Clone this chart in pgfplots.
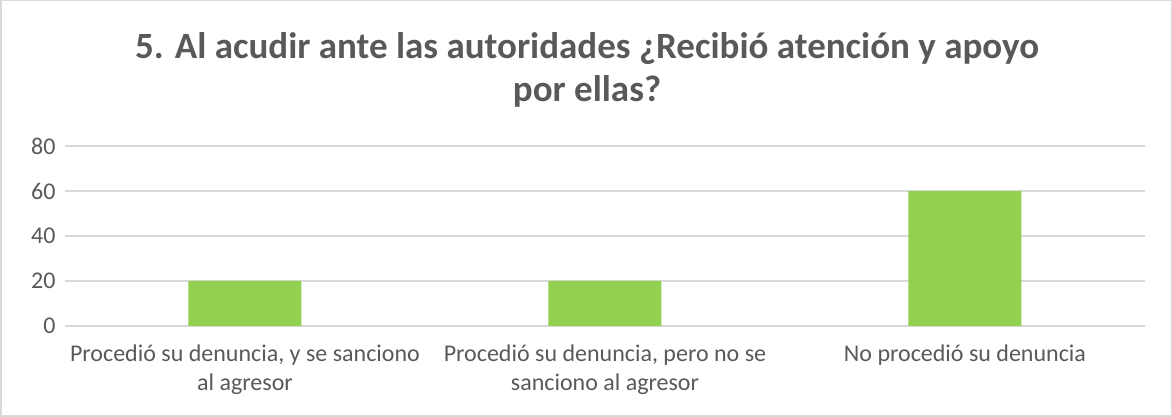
\documentclass[border=0pt]{standalone}
\usepackage{pgfplots}
\pgfplotsset{compat=1.18}
\usepackage{fontspec}
\setmainfont{Carlito}
\definecolor{txt}{HTML}{595959}
\definecolor{grd}{HTML}{D9D9D9}
\definecolor{bar}{HTML}{92D050}
\begin{document}
\begin{tikzpicture}[x=1pt,y=1pt]
\path[use as bounding box] (0,0) rectangle (1172,417);
\draw[grd, line width=1.5pt] (0.75,0.75) rectangle (1171.25,416.25);
\node[anchor=base, text=txt, font=\fontsize{37}{44}\selectfont\bfseries] at (587,358) {5. Al acudir ante las autoridades ¿Recibió atención y apoyo};
\node[anchor=base, text=txt, font=\fontsize{37}{44}\selectfont\bfseries] at (587,315) {por ellas?};
\begin{axis}[
  at={(65pt,91pt)}, anchor=south west,
  scale only axis, width=1080pt, height=180pt,
  xmin=-0.5, xmax=2.5, ymin=0, ymax=80,
  ytick={0,20,40,60,80},
  xtick={0,1,2},
  xticklabels={{Procedió su denuncia, y se sanciono\\al agresor},{Procedió su denuncia, pero no se\\sanciono al agresor},{No procedió su denuncia}},
  xticklabel style={align=center, font=\fontsize{24}{29}\selectfont, text=txt, anchor=north, yshift=-11pt},
  yticklabel style={font=\fontsize{24}{29}\selectfont, text=txt, xshift=-6pt},
  /pgf/number format/assume math mode=true,
  axis line style={draw=none},
  tick style={draw=none},
  ymajorgrids, grid style={grd, line width=1.8pt},
  ybar, bar width=113pt,
  clip=false,
]
\addplot[fill=bar, draw=none] coordinates {(0,20) (1,20) (2,60)};
\end{axis}
\end{tikzpicture}
\end{document}
